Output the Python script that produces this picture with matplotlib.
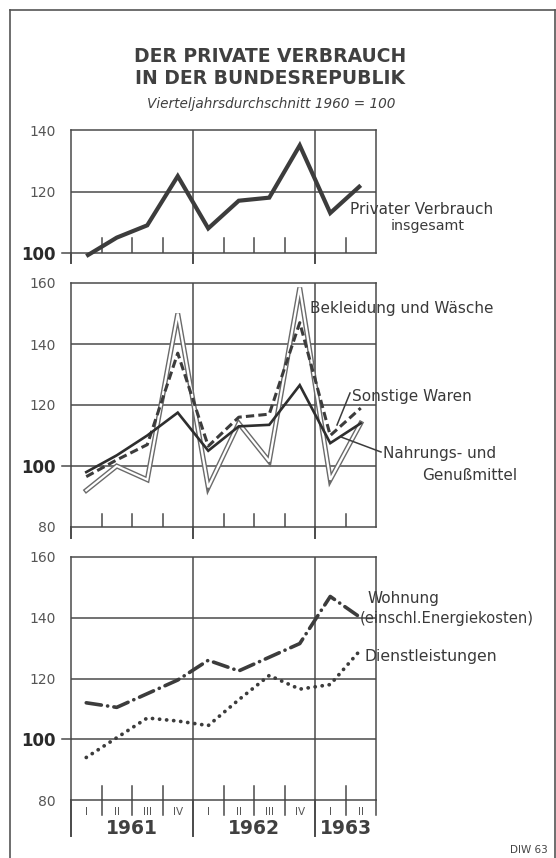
import numpy as np
import matplotlib
matplotlib.use('Agg')
import matplotlib.pyplot as plt
from matplotlib.lines import Line2D

plt.rcParams['font.family'] = ['DejaVu Sans']
plt.rcParams['lines.scale_dashes'] = False

# ---- data ----
quarters = ['I', 'II', 'III', 'IV', 'I', 'II', 'III', 'IV', 'I', 'II']
years = ['1961', '1962', '1963']
year_quarter_counts = [4, 4, 2]

privater_verbrauch = [99, 105, 109, 125, 108, 117, 118, 135, 113, 122]
bekleidung = [92, 100, 95.5, 150, 93, 114, 101.5, 158.5, 95.5, 114]
sonstige = [96.5, 102, 107, 137, 106.5, 116, 117, 147, 110, 119]
nahrung = [98, 103.5, 110, 117.5, 105, 113, 113.5, 126.5, 107.5, 114]
wohnung = [112, 110.5, 115, 119.5, 126, 122.5, 127, 131.5, 147, 140]
dienst = [94, 100.5, 107, 106, 104.5, 113, 121, 116.5, 118, 129.5]

top_ticks = [100, 120, 140]
mid_ticks = [80, 100, 120, 140, 160]
bot_ticks = [80, 100, 120, 140, 160]

W, H = 556, 858
fig = plt.figure(figsize=(W / 100, H / 100), dpi=100)
fig.patch.set_facecolor('white')

DARK = '#3c3c3c'
GRID = '#4a4a4a'
TXT = '#3a3a3a'


def fpos(x, y):
    return x / W, 1 - y / H


def add_axes(top, bottom, left=71, right=376):
    l, b = fpos(left, bottom)
    r, t = fpos(right, top)
    return fig.add_axes([l, b, r - l, t - b])


n = len(quarters)
x = np.arange(n) + 0.5
bounds = np.cumsum(year_quarter_counts)
qbounds = [i for i in range(1, n) if i not in bounds]


def style_axes(ax, ylim, ticks, tick_len_px, ext_below_px):
    ax.set_xlim(0, n)
    ax.set_ylim(*ylim)
    for s in ax.spines.values():
        s.set_color(GRID)
        s.set_linewidth(1.1)
    ax.set_xticks([])
    ax.set_yticks(ticks)
    ax.tick_params(axis='y', length=0, pad=11, labelsize=10, labelcolor='#555555')
    for t in ticks:
        if ylim[0] < t < ylim[1]:
            ax.axhline(t, color=GRID, lw=1.1, zorder=1)
    for b in bounds[:-1]:
        ax.axvline(b, color=GRID, lw=1.1, zorder=1)
    # quarter ticks from bottom
    axh_px = ax.get_position().height * H
    tl = tick_len_px / axh_px
    for q in qbounds:
        ax.plot([q, q], [0, tl], transform=ax.get_xaxis_transform(),
                color=GRID, lw=1.1, zorder=1)
    # extensions of vertical lines below the panel
    ext = ext_below_px / axh_px
    for b in [0] + list(bounds[:-1]):
        ax.plot([b, b], [0, -ext], transform=ax.get_xaxis_transform(),
                color=GRID, lw=1.4, clip_on=False)
    # 100 tick to the left, bold 100 label
    ax.plot([-0.03, 0], [100, 100], transform=ax.get_yaxis_transform(),
            color=GRID, lw=1.1, clip_on=False)
    for lab in ax.get_yticklabels():
        if lab.get_text() == '100':
            lab.set_fontsize(12)
            lab.set_color('#2a2a2a')
            lab.set_fontweight('bold')


# ---- top panel ----
ax1 = add_axes(130, 253)
style_axes(ax1, (100, 140), top_ticks, 15, 10)
ax1.plot(x, privater_verbrauch, color=DARK, lw=3.0, solid_joinstyle='miter',
         solid_capstyle='butt', zorder=3, clip_on=False)

# ---- middle panel ----
ax2 = add_axes(283, 527)
style_axes(ax2, (80, 160), mid_ticks, 13, 11)
ax2.plot(x, bekleidung, color='#6a6a6a', lw=3.6, solid_joinstyle='miter', zorder=2)
ax2.plot(x, bekleidung, color='white', lw=1.6, solid_joinstyle='miter', zorder=2.1)
ax2.plot(x, sonstige, color=DARK, lw=2.2, dashes=(6, 3), zorder=3)
ax2.plot(x, nahrung, color='#2e2e2e', lw=1.9, solid_joinstyle='miter', zorder=3.5)

# ---- bottom panel ----
ax3 = add_axes(557, 800)
style_axes(ax3, (80, 160), bot_ticks, 14, 36)
ax3.plot(x, wohnung, color=DARK, lw=2.6, dashes=(11, 4.5, 0.1, 4.5),
         dash_capstyle='round', zorder=3)
ax3.plot(x, dienst, color=DARK, lw=2.7, dashes=(0.1, 5),
         dash_capstyle='round', zorder=3)
# ticks below the bottom axis & right spine extension
axh3 = ax3.get_position().height * H
for q in qbounds:
    ax3.plot([q, q], [0, -15 / axh3], transform=ax3.get_xaxis_transform(),
             color=GRID, lw=1.1, clip_on=False)
ax3.plot([n, n], [0, -15 / axh3], transform=ax3.get_xaxis_transform(),
         color=GRID, lw=1.1, clip_on=False)
for xi, q in zip(x, quarters):
    ax3.text(xi, -12 / axh3, q, transform=ax3.get_xaxis_transform(),
             ha='center', va='center', fontsize=7.5, color='#555555')
starts = np.concatenate([[0], bounds[:-1]])
for s, e, yr in zip(starts, bounds, years):
    ax3.text((s + e) / 2, -29 / axh3, yr, transform=ax3.get_xaxis_transform(),
             ha='center', va='center', fontsize=13.5, fontweight='bold', color='#404040')

# ---- titles ----
fig.text(*fpos(270, 57), 'DER PRIVATE VERBRAUCH', ha='center', va='center',
         fontsize=13.5, fontweight='bold', color='#404040')
fig.text(*fpos(270, 79), 'IN DER BUNDESREPUBLIK', ha='center', va='center',
         fontsize=13.5, fontweight='bold', color='#404040')
fig.text(*fpos(271, 104), 'Vierteljahrsdurchschnitt 1960 = 100', ha='center', va='center',
         fontsize=9.8, fontstyle='italic', color='#404040')

# ---- series labels ----
lab_kw = dict(fontsize=11, color=TXT, va='center')
fig.text(*fpos(350, 210), 'Privater Verbrauch', ha='left', **lab_kw)
fig.text(*fpos(428, 226), 'insgesamt', ha='center', fontsize=10.3, color=TXT, va='center')
fig.text(*fpos(310, 308), 'Bekleidung und Wäsche', ha='left', **lab_kw)
fig.text(*fpos(352, 396), 'Sonstige Waren', ha='left', **lab_kw)
fig.text(*fpos(383, 453), 'Nahrungs- und', ha='left', **lab_kw)
fig.text(*fpos(422, 476), 'Genußmittel', ha='left', **lab_kw)
fig.text(*fpos(367, 598), 'Wohnung', ha='left', **lab_kw)
fig.text(*fpos(360, 619), '(einschl.Energiekosten)', ha='left', fontsize=10.6, color=TXT, va='center')
fig.text(*fpos(365, 657), 'Dienstleistungen', ha='left', fontsize=11.3, color=TXT, va='center')
fig.text(*fpos(548, 850), 'DIW 63', ha='right', va='center', fontsize=7.5, color='#444444')

# leader lines
for (x0, y0), (x1, y1) in [((350, 393), (337, 425)), ((381, 452), (341, 437))]:
    a, b = fpos(x0, y0)
    c, d = fpos(x1, y1)
    fig.add_artist(Line2D([a, c], [b, d], transform=fig.transFigure, color=DARK, lw=1.1))

# frame
for (x0, y0), (x1, y1) in [((10, 10), (555, 10)), ((10, 10), (10, 858)), ((555, 10), (555, 858))]:
    a, b = fpos(x0, y0)
    c, d = fpos(x1, y1)
    fig.add_artist(Line2D([a, c], [b, d], transform=fig.transFigure, color='#555555', lw=1.2))

fig.savefig('out.png', dpi=100, facecolor='white')
